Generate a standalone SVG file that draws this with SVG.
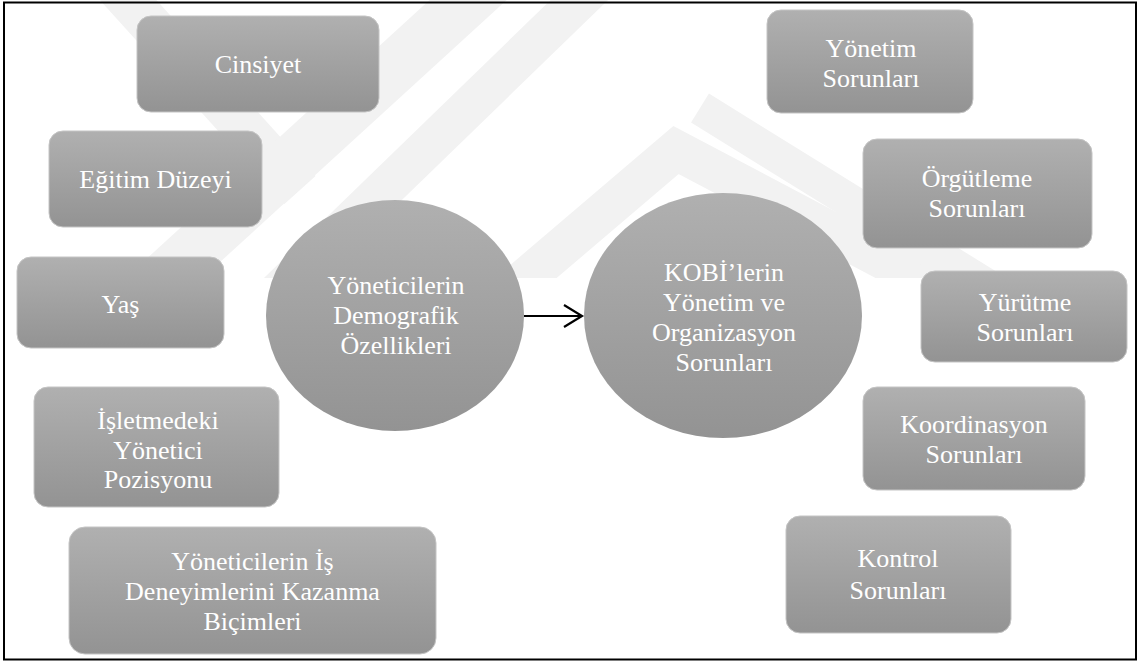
<svg xmlns="http://www.w3.org/2000/svg" width="1140" height="663" viewBox="0 0 1140 663">
<style>
.box{fill:url(#g);stroke:#c4c4c4;stroke-width:1}
.t{font-family:"Liberation Serif","Times New Roman",serif;font-size:26px;fill:#ffffff;text-anchor:middle}
.wm{stroke:#f2f2f2;fill:none;stroke-linecap:butt}
</style>
<defs>
<linearGradient id="g" x1="0" y1="0" x2="0" y2="1">
<stop offset="0" stop-color="#b0b0b0"/>
<stop offset="1" stop-color="#939393"/>
</linearGradient>
<clipPath id="wmclip"><rect x="0" y="0" width="1140" height="278"/></clipPath>
<marker id="arr" markerWidth="24" markerHeight="28" refX="20" refY="12" orient="auto" markerUnits="userSpaceOnUse">
<path d="M2,1 L20,12 L2,23" fill="none" stroke="#000" stroke-width="2.2"/>
</marker>
</defs>
<rect x="0" y="0" width="1140" height="663" fill="#ffffff"/>
<g id="watermark" clip-path="url(#wmclip)">
<line class="wm" x1="110" y1="-20" x2="300" y2="190" stroke-width="42"/>
<line class="wm" x1="490" y1="-20" x2="140" y2="300" stroke-width="52"/>
<line class="wm" x1="600" y1="-20" x2="270" y2="300" stroke-width="40"/>
<polyline class="wm" points="500,300 676,150 960,300" stroke-width="40"/>
<line class="wm" x1="700" y1="108" x2="1010" y2="300" stroke-width="34"/>
</g>
<rect x="4" y="2.5" width="1132" height="657" fill="none" stroke="#000" stroke-width="2"/>
<g id="connectors">
<line x1="524" y1="316" x2="582" y2="316" stroke="#000" stroke-width="2" marker-end="url(#arr)"/>
</g>
<g id="n-cinsiyet">
<rect class="box" x="137" y="16" width="242" height="96" rx="14"/>
<text class="t" x="258" y="73">Cinsiyet</text>
</g>
<g id="n-egitim">
<rect class="box" x="49" y="131" width="213" height="96" rx="14"/>
<text class="t" x="155.5" y="188">Eğitim Düzeyi</text>
</g>
<g id="n-yas">
<rect class="box" x="17" y="257" width="207" height="91" rx="14"/>
<text class="t" x="120.5" y="313">Yaş</text>
</g>
<g id="n-pozisyon">
<rect class="box" x="34" y="387" width="245" height="120" rx="14"/>
<text class="t" x="158" y="429">İşletmedeki</text>
<text class="t" x="158" y="459">Yönetici</text>
<text class="t" x="158" y="488">Pozisyonu</text>
</g>
<g id="n-deneyim">
<rect class="box" x="69" y="527" width="367" height="127" rx="16"/>
<text class="t" x="252.5" y="570">Yöneticilerin İş</text>
<text class="t" x="252.5" y="600">Deneyimlerini Kazanma</text>
<text class="t" x="252.5" y="630">Biçimleri</text>
</g>
<g id="n-demografik">
<ellipse cx="395" cy="315.5" rx="129" ry="115.5" fill="url(#g)"/>
<text class="t" x="396" y="294">Yöneticilerin</text>
<text class="t" x="396" y="324">Demografik</text>
<text class="t" x="396" y="354">Özellikleri</text>
</g>
<g id="n-kobi">
<ellipse cx="723" cy="315.5" rx="139" ry="122.5" fill="url(#g)"/>
<text class="t" x="724" y="281">KOBİ’lerin</text>
<text class="t" x="724" y="311">Yönetim ve</text>
<text class="t" x="724" y="341">Organizasyon</text>
<text class="t" x="724" y="371">Sorunları</text>
</g>
<g id="n-yonetim">
<rect class="box" x="767" y="10" width="206" height="103" rx="14"/>
<text class="t" x="871" y="57">Yönetim</text>
<text class="t" x="871" y="87">Sorunları</text>
</g>
<g id="n-orgutleme">
<rect class="box" x="863" y="139" width="229" height="109" rx="14"/>
<text class="t" x="977" y="187">Örgütleme</text>
<text class="t" x="977" y="217">Sorunları</text>
</g>
<g id="n-yurutme">
<rect class="box" x="921" y="271" width="206" height="91" rx="14"/>
<text class="t" x="1025" y="311">Yürütme</text>
<text class="t" x="1025" y="341">Sorunları</text>
</g>
<g id="n-koordinasyon">
<rect class="box" x="863" y="387" width="222" height="103" rx="14"/>
<text class="t" x="974" y="433">Koordinasyon</text>
<text class="t" x="974" y="463">Sorunları</text>
</g>
<g id="n-kontrol">
<rect class="box" x="786" y="516" width="225" height="117" rx="14"/>
<text class="t" x="898" y="567">Kontrol</text>
<text class="t" x="898" y="599">Sorunları</text>
</g>
</svg>
